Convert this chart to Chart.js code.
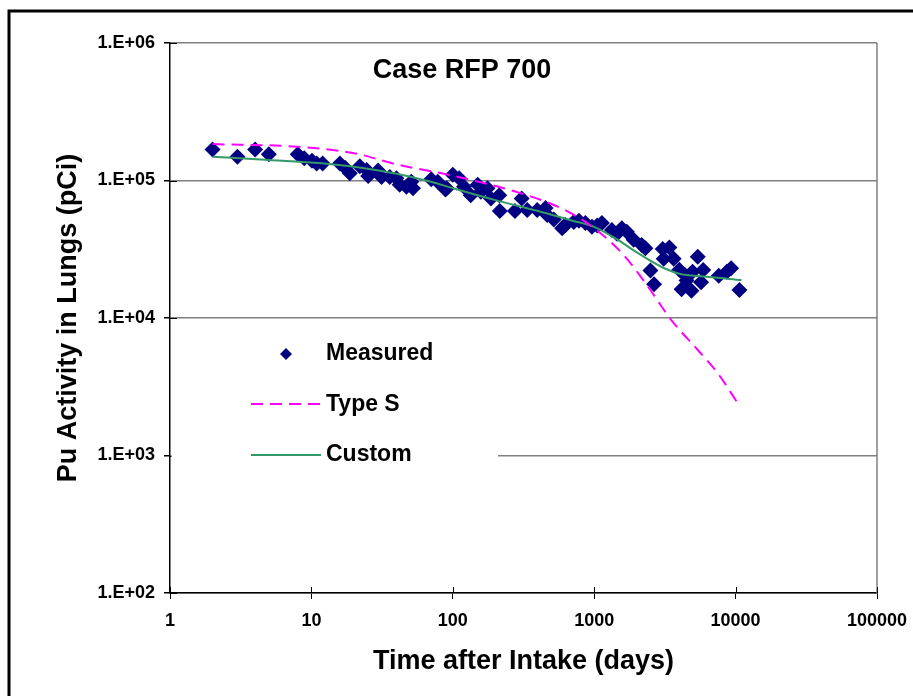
<!DOCTYPE html>
<html>
<head>
<meta charset="utf-8">
<script src="https://cdn.jsdelivr.net/npm/chart.js@4.4.1/dist/chart.umd.min.js"></script>
<style>
  html, body { margin: 0; padding: 0; background: #fff; }
  #wrap { width: 913px; height: 696px; }
</style>
</head>
<body>
<div id="wrap"><canvas id="chart1" width="913" height="696"></canvas></div>
<script>
// measured lung activity (days, pCi)
const measuredDays = [2, 3, 4, 5, 8, 8.9, 10.1, 10.9, 12, 15.9, 17.3, 18.7, 22, 24.6, 25.2, 29.6, 31.3, 35.8, 39.9, 42.1,
  47, 50.9, 52.3, 70.4, 78.3, 88.7, 90.6, 100, 111, 120, 134, 150, 158, 176, 186, 213, 215, 275, 307, 336,
  395, 453, 465, 518, 593, 626, 717, 780, 866, 964, 1050, 1133, 1333, 1450, 1567, 1700, 1900, 2166, 2300, 2500,
  2650, 3050, 3100, 3400, 3650, 4000, 4150, 4400, 4500, 4870, 4960, 5400, 5700, 5900, 7600, 8670, 9300, 10650];
const measuredPCi = [168000, 149000, 168000, 155000, 155000, 145000, 139000, 133000, 133000, 133000, 124000, 113000, 127000, 119000, 108000, 118000, 106000, 106000, 104000, 93000,
  90000, 98000, 88000, 102000, 98000, 86000, 88000, 110000, 104000, 90000, 78000, 93000, 83000, 88000, 74000, 78000, 60000, 60000, 74000, 61000,
  61000, 63000, 56000, 52000, 45000, 47500, 50000, 51000, 49000, 46000, 47000, 49000, 43700, 41000, 45000, 42400, 37000, 34000, 32100, 22200,
  17600, 31700, 27000, 32500, 27000, 22400, 16200, 20500, 18700, 15800, 21700, 27900, 18200, 22300, 20300, 21700, 23000, 16000];

// Type S model curve
const typeSDays = [2, 8, 20, 40, 90, 140, 300, 600, 1000, 1600, 2300, 3500, 5400, 7500, 10500];
const typeSPCi = [184000, 176000, 158000, 131000, 111000, 100000, 81000, 62000, 45000, 29000, 18000, 9700, 5850, 3950, 2350];

// Custom model curve
const customDays = [2, 5, 10, 20, 40, 70, 100, 200, 400, 700, 1000, 1500, 2000, 3000, 4000, 6000, 11000];
const customPCi = [149000, 141000, 135000, 126000, 112000, 98000, 88000, 72000, 60000, 51000, 46000, 36500, 30000, 23500, 21000, 20000, 18900];

const xTicks = [1, 10, 100, 1000, 10000, 100000];
const yTicks = [100, 1000, 10000, 100000, 1000000];
const yTickLabels = ['1.E+02', '1.E+03', '1.E+04', '1.E+05', '1.E+06'];

const FONT = "'Liberation Sans', Arial, sans-serif";

function toPoints(xs, ys) {
  return xs.map((x, i) => ({ x: x, y: ys[i] }));
}

const decorPlugin = {
  id: 'decor',
  beforeDraw(chart) {
    const ctx = chart.ctx;
    ctx.save();
    ctx.fillStyle = '#fff';
    ctx.fillRect(0, 0, chart.width, chart.height);
    ctx.strokeStyle = '#000';
    ctx.lineWidth = 3;
    ctx.strokeRect(9, 11, 920, 700);
    ctx.restore();
  },
  afterDatasetsDraw(chart) {
    const ctx = chart.ctx;
    const area = chart.chartArea;
    const xs = chart.scales.x, ys = chart.scales.y;
    ctx.save();
    // right edge of plot
    ctx.strokeStyle = '#808080';
    ctx.lineWidth = 1.5;
    ctx.beginPath();
    ctx.moveTo(area.right, area.top);
    ctx.lineTo(area.right, area.bottom);
    ctx.stroke();
    // inner halves of the cross tick marks
    ctx.strokeStyle = '#000';
    ctx.lineWidth = 1;
    ctx.beginPath();
    yTicks.forEach(v => {
      const py = Math.round(ys.getPixelForValue(v)) + 0.5;
      ctx.moveTo(area.left, py);
      ctx.lineTo(area.left + 7, py);
    });
    xTicks.forEach(v => {
      const px = Math.round(xs.getPixelForValue(v)) + 0.5;
      ctx.moveTo(px, area.bottom);
      ctx.lineTo(px, area.bottom - 6);
    });
    ctx.stroke();

    // legend box
    ctx.fillStyle = '#fff';
    ctx.fillRect(area.left + 1.5, 330, 498 - area.left - 1.5, 145);
    const ds = chart.data.datasets;
    ctx.font = 'bold 23px ' + FONT;
    ctx.textBaseline = 'middle';
    // Measured marker
    ctx.fillStyle = ds[0].backgroundColor;
    ctx.beginPath();
    ctx.moveTo(286, 348);
    ctx.lineTo(292, 354);
    ctx.lineTo(286, 360);
    ctx.lineTo(280, 354);
    ctx.closePath();
    ctx.fill();
    ctx.fillStyle = '#000';
    ctx.fillText(ds[0].label, 326, 354);
    // Type S
    ctx.strokeStyle = ds[1].borderColor;
    ctx.lineWidth = ds[1].borderWidth;
    ctx.setLineDash(ds[1].borderDash);
    ctx.beginPath();
    ctx.moveTo(251, 404);
    ctx.lineTo(321, 404);
    ctx.stroke();
    ctx.fillText(ds[1].label, 326, 405);
    // Custom
    ctx.setLineDash([]);
    ctx.strokeStyle = ds[2].borderColor;
    ctx.lineWidth = ds[2].borderWidth;
    ctx.beginPath();
    ctx.moveTo(251, 455);
    ctx.lineTo(321, 455);
    ctx.stroke();
    ctx.fillText(ds[2].label, 326, 455);

    // chart title
    ctx.font = 'bold 27px ' + FONT;
    ctx.textAlign = 'center';
    ctx.fillText('Case RFP 700', 462, 71);
    ctx.restore();
  }
};

new Chart(document.getElementById('chart1').getContext('2d'), {
  type: 'scatter',
  data: {
    datasets: [{
      label: 'Measured',
      data: toPoints(measuredDays, measuredPCi),
      pointStyle: 'rectRot',
      pointRadius: 8,
      backgroundColor: '#000080',
      borderColor: '#000080',
      borderWidth: 0,
      order: 3
    }, {
      label: 'Type S',
      data: toPoints(typeSDays, typeSPCi),
      showLine: true,
      pointRadius: 0,
      borderColor: '#ff00ff',
      borderWidth: 2,
      borderDash: [12, 7],
      cubicInterpolationMode: 'monotone',
      order: 1
    }, {
      label: 'Custom',
      data: toPoints(customDays, customPCi),
      showLine: true,
      pointRadius: 0,
      borderColor: '#339966',
      borderWidth: 2,
      cubicInterpolationMode: 'monotone',
      order: 2
    }]
  },
  options: {
    responsive: false,
    animation: false,
    layout: { padding: { left: 10, top: 43, right: 36, bottom: 0 } },
    plugins: {
      legend: { display: false },
      tooltip: { enabled: false }
    },
    scales: {
      x: {
        type: 'logarithmic',
        min: 1,
        max: 100000,
        afterBuildTicks: scale => { scale.ticks = xTicks.map(v => ({ value: v })); },
        afterFit: scale => {
          scale.height = 103;
          scale.paddingLeft = 0;
          scale.paddingRight = 0;
        },
        ticks: {
          color: '#000',
          font: { family: FONT, size: 18, weight: 'bold' },
          padding: 11,
          maxRotation: 0,
          callback: value => String(value)
        },
        grid: { drawOnChartArea: false, tickLength: 6, tickColor: '#000' },
        border: { color: '#000', width: 1.5 },
        title: {
          display: true,
          text: 'Time after Intake (days)',
          color: '#000',
          font: { family: FONT, size: 27, weight: 'bold' },
          padding: { top: 0, bottom: 18 }
        }
      },
      y: {
        type: 'logarithmic',
        min: 100,
        max: 1000000,
        afterBuildTicks: scale => { scale.ticks = yTicks.map(v => ({ value: v })); },
        afterFit: scale => {
          scale.width = 160;
          scale.paddingTop = 0;
          scale.paddingBottom = 0;
        },
        ticks: {
          color: '#000',
          font: { family: FONT, size: 18, weight: 'bold' },
          padding: 9,
          callback: (value, index) => yTickLabels[index]
        },
        grid: { color: '#808080', lineWidth: 1.5, tickLength: 6, tickColor: '#000' },
        border: { color: '#000', width: 1.5 },
        title: {
          display: true,
          text: 'Pu Activity in Lungs (pCi)',
          color: '#000',
          font: { family: FONT, size: 27, weight: 'bold' },
          padding: { top: 42, bottom: 0 }
        }
      }
    }
  },
  plugins: [decorPlugin]
});
</script>
</body>
</html>
